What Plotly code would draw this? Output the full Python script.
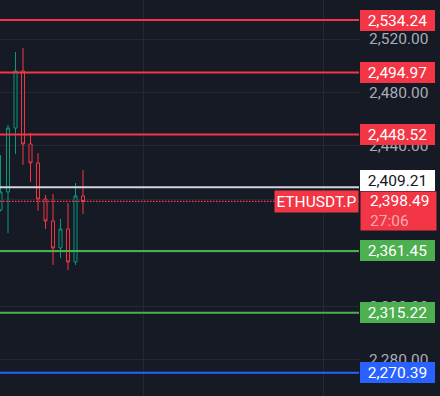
import plotly.graph_objects as go

# ---------------- data ----------------
bars = list(range(12))
opens = [2392.1, 2405.6, 2453.4, 2496.1, 2441.5, 2427.3, 2400.3, 2383.9, 2363.7, 2377.9, 2353.2, 2402.6]
highs = [2433.2, 2455.7, 2510.3, 2513.3, 2449.7, 2434.7, 2403.3, 2404.1, 2385.4, 2397.3, 2412.3, 2422.0]
lows = [2391.0, 2374.9, 2434.0, 2425.8, 2413.1, 2391.4, 2377.9, 2351.0, 2356.2, 2347.2, 2351.0, 2389.1]
closes = [2405.6, 2453.4, 2496.1, 2441.5, 2427.3, 2400.3, 2383.9, 2363.7, 2377.9, 2353.2, 2402.6, 2398.49]

level_prices = [2534.24, 2494.97, 2448.52, 2409.21, 2361.45, 2315.22, 2270.39]
level_line_colors = ["#f23645", "#f23645", "#f23645", "#d1d4dc", "#4caf50", "#4caf50", "#2962ff"]
level_label_bg = ["#f23645", "#f23645", "#f23645", "#ffffff", "#4caf50", "#4caf50", "#2962ff"]
level_label_fg = ["#ffffff", "#ffffff", "#ffffff", "#131722", "#ffffff", "#ffffff", "#ffffff"]
level_label_shift = [0, 0, 0, 6.5, 0, 0, 0]

last_price = 2398.49
countdown = "27:06"
symbol = "ETHUSDT.P"

y_range = [2252.95, 2549.2]
x_range = [-0.067, 47.8]
y_dtick = 40
x_grid_start = 19
x_grid_step = 24

# ---------------- style ----------------
BG = "#161a25"
GRID = "#242834"
UP = "#089981"
DOWN = "#f23645"
FONT = "Roboto"
FS = 15.5
W, H = 440, 396
PLOT_R = 359
LABEL_X = 360 / PLOT_R

fig = go.Figure(
    go.Candlestick(
        x=bars, open=opens, high=highs, low=lows, close=closes,
        increasing=dict(line=dict(color=UP, width=1), fillcolor=BG),
        decreasing=dict(line=dict(color=DOWN, width=1), fillcolor=BG),
        whiskerwidth=0, hoverinfo="skip", showlegend=False,
    )
)

shapes = []
annotations = []
for p, lc, bg, fg, sh in zip(level_prices, level_line_colors, level_label_bg,
                             level_label_fg, level_label_shift):
    shapes.append(dict(type="line", xref="paper", x0=0, x1=1, yref="y", y0=p, y1=p,
                       line=dict(color=lc, width=2), layer="above"))
    annotations.append(dict(
        xref="paper", x=LABEL_X, xanchor="left", yref="y", y=p, yanchor="middle",
        yshift=sh, text=f"{p:,.2f}", showarrow=False, bgcolor=bg,
        font=dict(family=FONT, size=FS, color=fg), width=75, height=21,
        borderpad=0, borderwidth=0, align="center"))

# current price dotted line
shapes.append(dict(type="line", xref="paper", x0=0, x1=1, yref="y", y0=last_price, y1=last_price,
                   line=dict(color="#ff3b4b", width=1.2, dash="1.5px,1.5px"), layer="above"))

# symbol label
annotations.append(dict(
    xref="paper", x=358.5 / PLOT_R, xanchor="right", yref="y", y=last_price, yanchor="middle",
    text=symbol, showarrow=False, bgcolor=DOWN, font=dict(family=FONT, size=FS, color="#ffffff"),
    width=83, height=21, borderpad=0, align="center"))

# current price box (background)
annotations.append(dict(
    xref="paper", x=LABEL_X, xanchor="left", yref="y", y=last_price, yanchor="top", yshift=10.5,
    text=" ", showarrow=False, bgcolor=DOWN, width=75, height=38, borderpad=0))
# current price text
annotations.append(dict(
    xref="paper", x=LABEL_X, xanchor="left", xshift=9, yref="y", y=last_price, yanchor="top",
    yshift=10.5,
    text=f"{last_price:,.2f}<br><span style='color:#f9a9b1'>{countdown}</span>",
    showarrow=False, font=dict(family=FONT, size=FS, color="#ffffff"), align="left",
    height=38, borderpad=0))

fig.update_layout(
    width=W, height=H,
    margin=dict(l=0, r=W - PLOT_R, t=0, b=0),
    paper_bgcolor=BG, plot_bgcolor=BG,
    shapes=shapes, annotations=annotations,
    boxgap=0.42,
    hovermode=False,
    xaxis=dict(range=x_range, rangeslider=dict(visible=False), showticklabels=False,
               showgrid=True, gridcolor=GRID, gridwidth=1, tick0=x_grid_start, dtick=x_grid_step,
               tickmode="linear", zeroline=False, showline=False, ticks="", automargin=False),
    yaxis=dict(range=y_range, side="right", tickmode="linear", tick0=0, dtick=y_dtick,
               tickformat=",.2f", tickfont=dict(family=FONT, size=FS, color="#a9acb5"),
               showgrid=True, gridcolor=GRID, gridwidth=1, zeroline=False, showline=False,
               ticks="", ticklabelstandoff=9, automargin=False),
)

fig.write_html("out.html", config={"displayModeBar": False},
               post_script="document.body.style.margin='0';document.body.style.background='%s';" % BG)
